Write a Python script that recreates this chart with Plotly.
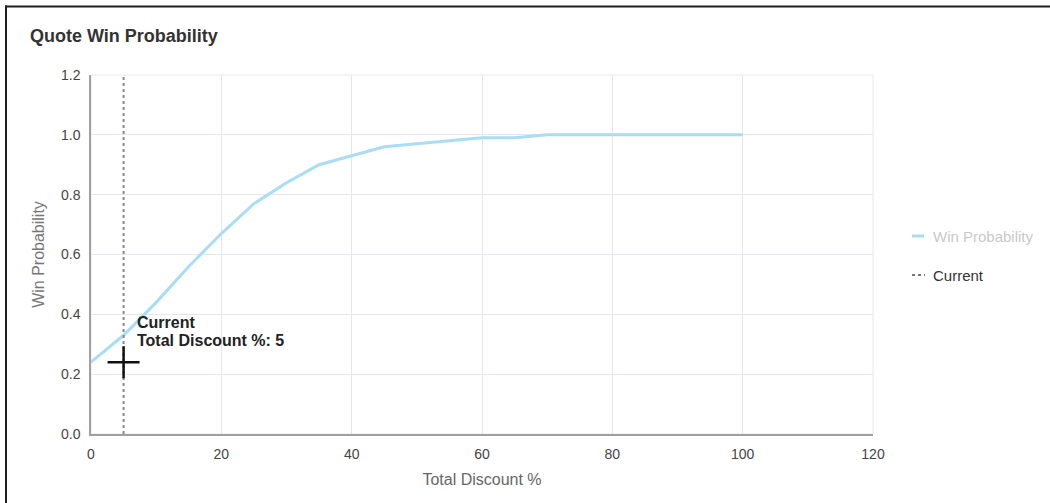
import plotly.graph_objects as go

# Win probability curve by total discount
discount_pct = [0, 5, 10, 15, 20, 25, 30, 35, 40, 45, 50, 55, 60, 65, 70, 75, 80, 85, 90, 95, 100]
win_prob = [0.24, 0.33, 0.44, 0.56, 0.67, 0.77, 0.84, 0.90, 0.93, 0.96, 0.97, 0.98, 0.99, 0.99,
            1.0, 1.0, 1.0, 1.0, 1.0, 1.0, 1.0]

# Current quote marker
current_discount = 5
current_win = 0.33
cursor_win = 0.24

x_ticks = [0, 20, 40, 60, 80, 100, 120]
y_ticks = [0.0, 0.2, 0.4, 0.6, 0.8, 1.0, 1.2]

W, H = 1050, 503
L, R, T, B = 91, 177, 75, 69
pw, ph = W - L - R, H - T - B


def px_x(px):
    return (px - L) / pw


def px_y(py):
    return (H - B - py) / ph


FONT = "Liberation Sans, Arial, sans-serif"
LINE_BLUE = "#A8DDF5"

fig = go.Figure()

fig.add_trace(go.Scatter(
    x=discount_pct, y=win_prob, mode="lines", name="Win Probability",
    line=dict(color=LINE_BLUE, width=3), hoverinfo="skip",
))
fig.add_trace(go.Scatter(
    x=[current_discount, current_discount], y=[y_ticks[0], y_ticks[-1]], mode="lines",
    name="Current", line=dict(color="#8a8a8a", width=2, dash="dot"), hoverinfo="skip",
))

shapes = [
    # card frame (left and top edges)
    dict(type="line", xref="paper", yref="paper", x0=px_x(6), x1=px_x(6), y0=px_y(5.5), y1=px_y(510),
         line=dict(color="#1e1e1e", width=2), layer="above"),
    dict(type="line", xref="paper", yref="paper", x0=px_x(5), x1=px_x(1060), y0=px_y(6.5), y1=px_y(6.5),
         line=dict(color="#1e1e1e", width=2), layer="above"),
    # legend samples
    dict(type="line", xref="paper", yref="paper", x0=px_x(912), x1=px_x(924), y0=px_y(236), y1=px_y(236),
         line=dict(color=LINE_BLUE, width=3)),
    dict(type="line", xref="paper", yref="paper", x0=px_x(912), x1=px_x(925), y0=px_y(275), y1=px_y(275),
         line=dict(color="#777777", width=2, dash="dot")),
    # pointer crosshair
    dict(type="line", xref="x", yref="y", xsizemode="pixel", ysizemode="pixel",
         xanchor=current_discount, yanchor=cursor_win, x0=-16, x1=16, y0=0, y1=0,
         line=dict(color="#111111", width=2.5), layer="above"),
    dict(type="line", xref="x", yref="y", xsizemode="pixel", ysizemode="pixel",
         xanchor=current_discount, yanchor=cursor_win, x0=0, x1=0, y0=-16, y1=16,
         line=dict(color="#111111", width=2.5), layer="above"),
]

label_font = dict(size=16, color="#222222", family=FONT)
annotations = [
    dict(text="<b>Quote Win Probability</b>", xref="paper", yref="paper", x=px_x(28), y=px_y(36),
         xanchor="left", yanchor="middle", showarrow=False, font=dict(size=18, color="#333333", family=FONT)),
    # label of the current quote, one line each
    dict(text="<b>Current</b>", xref="x", yref="y",
         x=current_discount, y=current_win, xshift=11, yshift=13,
         xanchor="left", yanchor="middle", align="left", showarrow=False, font=label_font),
    dict(text="<b>Total Discount %: 5</b>", xref="x", yref="y",
         x=current_discount, y=current_win, xshift=11, yshift=-5,
         xanchor="left", yanchor="middle", align="left", showarrow=False, font=label_font),
    dict(text="Win Probability", xref="paper", yref="paper", x=px_x(931), y=px_y(236),
         xanchor="left", yanchor="middle", showarrow=False, font=dict(size=15, color="#c9c9c9", family=FONT)),
    dict(text="Current", xref="paper", yref="paper", x=px_x(931), y=px_y(275),
         xanchor="left", yanchor="middle", showarrow=False, font=dict(size=15, color="#333333", family=FONT)),
]

fig.update_layout(
    width=W, height=H,
    margin=dict(l=L, r=R, t=T, b=B, pad=0),
    paper_bgcolor="white", plot_bgcolor="white",
    font=dict(family=FONT, size=14, color="#444444"),
    showlegend=False,
    shapes=shapes,
    annotations=annotations,
    xaxis=dict(
        range=[0, 120], tickvals=x_ticks, ticktext=[str(v) for v in x_ticks],
        showgrid=True, gridcolor="#e4e8ee", gridwidth=1,
        showline=True, linecolor="#a0a0a0", linewidth=1.5, mirror=False,
        zeroline=False, ticks="outside", ticklen=6, tickcolor="rgba(0,0,0,0)",
        tickfont=dict(size=14, color="#444444"),
        title=dict(text="Total Discount %", font=dict(size=16, color="#666666"), standoff=13),
        fixedrange=True,
    ),
    yaxis=dict(
        range=[0, 1.2], tickvals=y_ticks, ticktext=[f"{v:.1f}" for v in y_ticks],
        showgrid=True, gridcolor="#e4e8ee", gridwidth=1,
        showline=True, linecolor="#a0a0a0", linewidth=1.5, mirror=False,
        zeroline=False, ticks="outside", ticklen=6, tickcolor="rgba(0,0,0,0)",
        tickfont=dict(size=14, color="#444444"),
        title=dict(text="Win Probability", font=dict(size=16, color="#777777"), standoff=12),
        fixedrange=True,
    ),
)

# right and top edges of the plotting area
fig.add_shape(type="rect", xref="paper", yref="paper", x0=0, x1=1, y0=0, y1=1,
              line=dict(color="#e4e8ee", width=1), layer="below")

fig.write_html("out.html")
